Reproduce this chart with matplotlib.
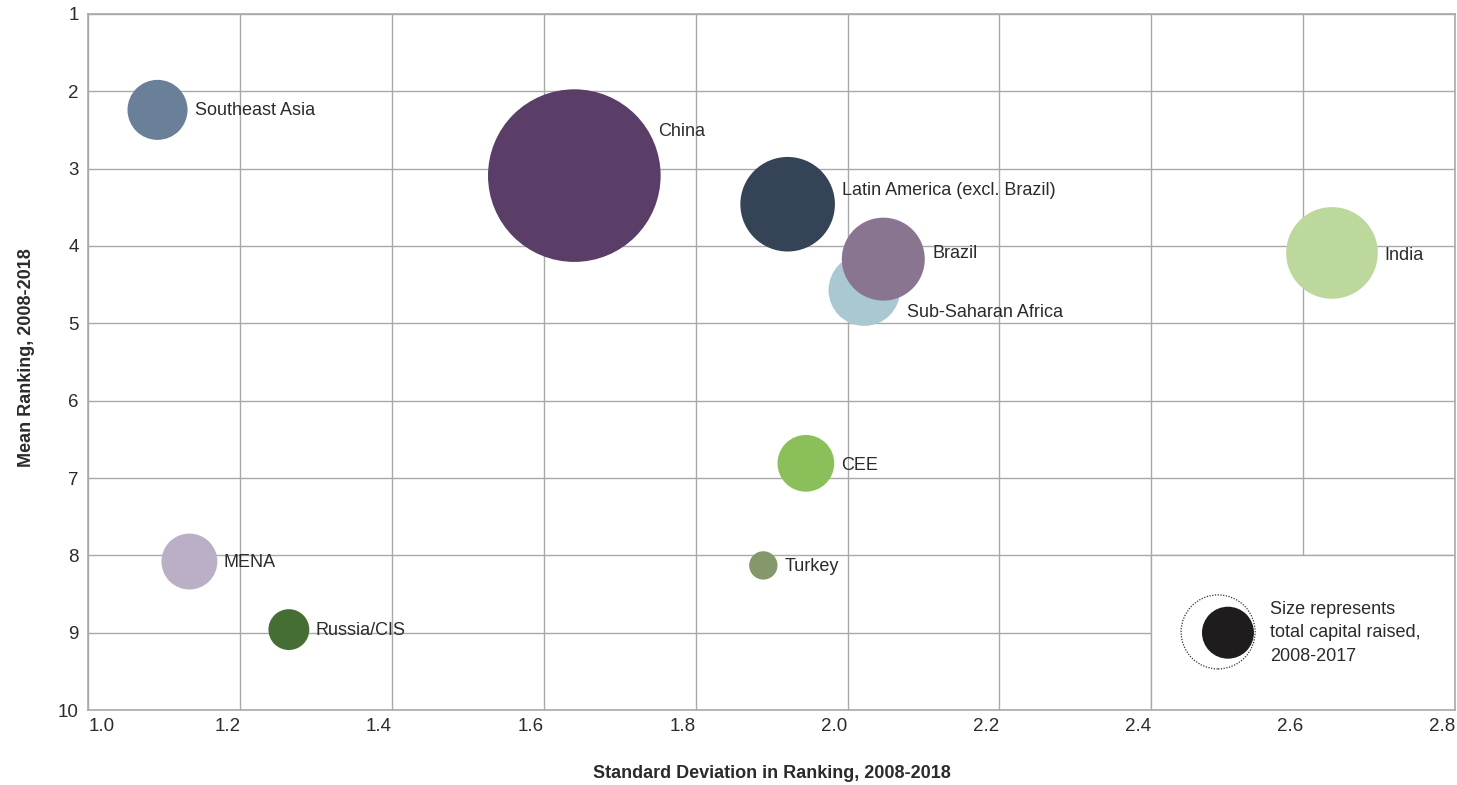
import matplotlib
matplotlib.use("Agg")
import matplotlib.pyplot as plt
from matplotlib.patches import Rectangle

# Regions: volatility of ranking (x), mean ranking (y), capital raised (bubble area)
regions = ["Southeast Asia", "China", "Latin America (excl. Brazil)", "Sub-Saharan Africa",
           "Brazil", "India", "CEE", "Turkey", "MENA", "Russia/CIS"]
std_dev = [1.091, 1.640, 1.921, 2.022, 2.047, 2.638, 1.945, 1.889, 1.133, 1.264]
mean_rank = [2.24, 3.09, 3.46, 4.57, 4.17, 4.09, 6.81, 8.13, 8.08, 8.96]
capital = [12.1, 100.0, 30.0, 17.2, 23.1, 28.2, 10.8, 2.7, 10.5, 5.6]
colors = ["#6a8099", "#5a3e68", "#344355", "#a9c8d2", "#8a7591", "#bdd89c",
          "#8bbf5a", "#84986c", "#bbafc6", "#456e35"]

x_ticks = [1.0, 1.2, 1.4, 1.6, 1.8, 2.0, 2.2, 2.4, 2.6, 2.8]
x_ticklabels = ["1.0", "1.2", "1.4", "1.6", "1.8", "2.0", "2.2", "2.4", "2.6", "2.8"]
y_ticks = [1, 2, 3, 4, 5, 6, 7, 8, 9, 10]
y_ticklabels = ["1", "2", "3", "4", "5", "6", "7", "8", "9", "10"]

# label offsets from bubble centre, in pixels (right, down)
label_offsets = {
    "Southeast Asia": (37, 1),
    "China": (84, -44),
    "Latin America (excl. Brazil)": (54, -14),
    "Sub-Saharan Africa": (43, 22),
    "Brazil": (49, -6),
    "India": (52, 3),
    "CEE": (35, 2),
    "Turkey": (21, 1),
    "MENA": (34, 1),
    "Russia/CIS": (27, 1),
}

plt.rcParams["font.family"] = ["Liberation Sans", "DejaVu Sans"]
text_color = "#2b2b2b"
grid_color = "#a9a9a9"
fs = 13

fig = plt.figure(figsize=(14.57, 7.85), dpi=100)
ax = fig.add_axes([0.0607, 0.0955, 0.9379, 0.8867])

ax.set_xlim(1.0, 2.8)
ax.set_ylim(10, 1)
ax.set_xticks(x_ticks)
ax.set_xticklabels(x_ticklabels)
ax.set_yticks(y_ticks)
ax.set_yticklabels(y_ticklabels)
ax.tick_params(length=0, labelsize=fs + 0.5, labelcolor=text_color)
ax.tick_params(axis="x", pad=6)
ax.tick_params(axis="y", pad=7)
for i, lab in enumerate(ax.get_xticklabels()):
    lab.set_ha("left" if i == 0 else "right")

ax.grid(True, color=grid_color, linewidth=1.0)
ax.set_axisbelow(True)
for sp in ax.spines.values():
    sp.set_color(grid_color)
    sp.set_linewidth(1.2)

# bubbles
size_scale = 154.5
ax.scatter(std_dev, mean_rank, s=[c * size_scale for c in capital], c=colors,
           edgecolors="none", zorder=3)

for name, x, y in zip(regions, std_dev, mean_rank):
    dx, dy = label_offsets[name]
    ax.annotate(name, (x, y), xytext=(dx, -dy), textcoords="offset pixels",
                ha="left", va="center", fontsize=fs, color=text_color, zorder=4)

# size key in the lower-right cell
ax.add_patch(Rectangle((2.4, 8), 0.4, 2, facecolor="white", edgecolor=grid_color,
                       linewidth=1.0, zorder=2))
ax.scatter([2.488], [8.99], s=2840, facecolors="none", edgecolors="#333333",
           linewidths=0.9, linestyle=(0, (1, 1.2)), zorder=3)
ax.scatter([2.501], [9.0], s=1400, c="#1e1c1d", edgecolors="none", zorder=4)
ax.annotate("Size represents\ntotal capital raised,\n2008-2017", (2.501, 9.0),
            xytext=(42, 0), textcoords="offset pixels", ha="left", va="center",
            fontsize=fs, color=text_color, linespacing=1.5, zorder=5)

ax.set_xlabel("Standard Deviation in Ranking, 2008-2018", fontsize=13,
              fontweight="bold", color=text_color, va="center")
ax.xaxis.set_label_coords(0.5, -0.0905)
ax.set_ylabel("Mean Ranking, 2008-2018", fontsize=13, fontweight="bold",
              color=text_color, va="center")
ax.yaxis.set_label_coords(-0.045, 0.507)

fig.savefig("out.png", dpi=100, facecolor="white")
